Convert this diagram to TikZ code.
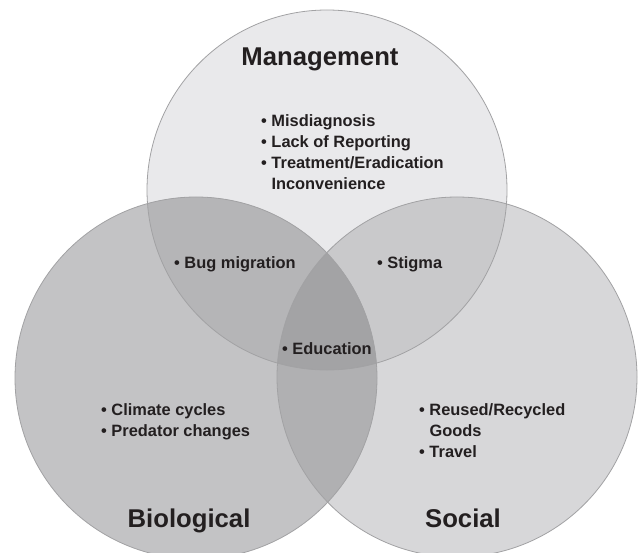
\documentclass[tikz,border=0pt]{standalone}
\usepackage{fontspec}
\setmainfont{Liberation Sans}
\definecolor{cT}{HTML}{E9E9EB}
\definecolor{cL}{HTML}{C3C3C5}
\definecolor{cR}{HTML}{D7D7D9}
\definecolor{cTL}{HTML}{B5B5B7}
\definecolor{cTR}{HTML}{C9C9CB}
\definecolor{cLR}{HTML}{B0B0B2}
\definecolor{cTLR}{HTML}{A3A3A5}
\definecolor{edge}{HTML}{A2A2A4}
\definecolor{ink}{HTML}{231F20}
\tikzset{
  item/.style={anchor=base west, inner sep=0pt, text=ink, font=\bfseries\fontsize{16.4}{21}\selectfont},
  head/.style={anchor=base, inner sep=0pt, text=ink, font=\bfseries\fontsize{25.7}{30}\selectfont},
}
\newcommand{\circT}{(327pt,-190pt) circle [radius=180pt]}
\newcommand{\circL}{(196pt,-378pt) circle [radius=181pt]}
\newcommand{\circR}{(457pt,-377pt) circle [radius=180pt]}
\begin{document}
\begin{tikzpicture}[x=1pt,y=-1pt]
\useasboundingbox (0,0) rectangle (639,553);
\fill[white] (0,0) rectangle (639,553);
% single regions
\fill[cT] \circT;
\fill[cL] \circL;
\fill[cR] \circR;
% pairwise
\begin{scope}\clip \circT; \fill[cTL] \circL; \end{scope}
\begin{scope}\clip \circT; \fill[cTR] \circR; \end{scope}
\begin{scope}\clip \circL; \fill[cLR] \circR; \end{scope}
\begin{scope}\clip \circT; \clip \circL; \fill[cTLR] \circR; \end{scope}
% outlines
\draw[edge, line width=0.8pt] \circT;
\draw[edge, line width=0.8pt] \circL;
\draw[edge, line width=0.8pt] \circR;
% headings
\node[head] (hM) at (320,66) {Management};
\node[head] (hB) at (189,527) {Biological};
\node[head] (hS) at (463,527) {Social};
% management items
\node[item] (m1) at (261,127) {• Misdiagnosis};
\node[item] (m2) at (261,148) {• Lack of Reporting};
\node[item] (m3) at (261,169) {• Treatment/Eradication};
\node[item] (m4) at (261,190) {\phantom{• }Inconvenience};
% intersections
\node[item] (bm) at (174,268) {• Bug migration};
\node[item] (st) at (377,268) {• Stigma};
\node[item] (ed) at (282,354) {• Education};
% biological
\node[item] (b1) at (101,415) {• Climate cycles};
\node[item] (b2) at (101,436) {• Predator changes};
% social
\node[item] (s1) at (419,415) {• Reused/Recycled};
\node[item] (s2) at (419,436) {\phantom{• }Goods};
\node[item] (s3) at (419,457) {• Travel};
\end{tikzpicture}
\end{document}
